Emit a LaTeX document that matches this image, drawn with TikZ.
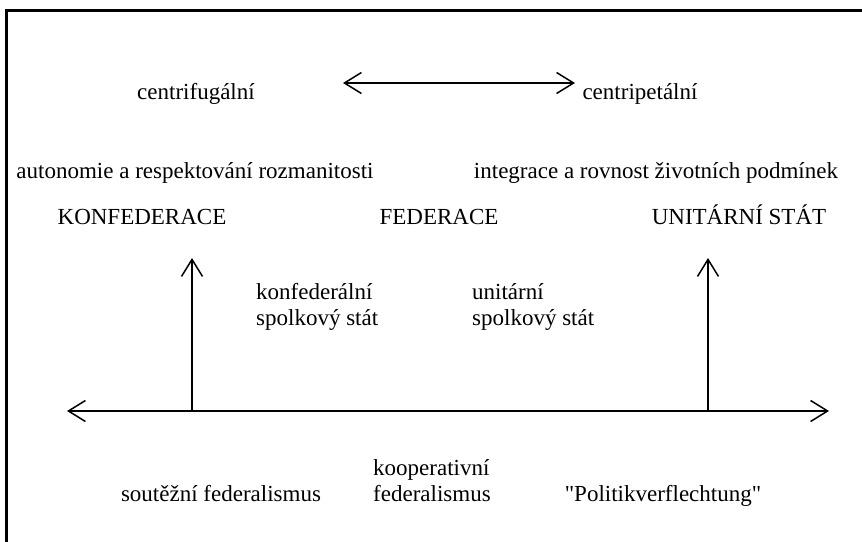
\documentclass[tikz,border=0pt]{standalone}
\usepackage{fontspec}
\setmainfont{Liberation Serif}
\newfontfamily\plainserif{Liberation Serif}
\usetikzlibrary{arrows.meta}
\begin{document}
\begin{tikzpicture}[x=1pt,y=-1pt,
  lbl/.style={inner sep=0pt,font=\fontsize{23}{26}\selectfont},
  lblw/.style={lbl,anchor=base west,align=left},
  lblc/.style={lbl,anchor=base},
  arr/.style={line width=1.5pt,{Straight Barb[length=17pt,width=21pt]}-{Straight Barb[length=17pt,width=21pt]}},
  uparr/.style={line width=1.5pt,-{Straight Barb[length=17pt,width=21pt]}},
  frame/.style={line width=2.6pt}
]
\useasboundingbox (0,0) rectangle (862,541);
\coordinate (fb) at (6.2,545);
\coordinate (fc) at (6.2,10.3);
\coordinate (fr) at (866,10.3);
\draw[frame] (fb) -- (fc) -- (fr);

\node[lblc] (cf) at (196,99) {centrifugální};
\node[lblc] (cp) at (640,99) {centripetální};
\coordinate (dl) at (343,83);
\coordinate (dr) at (575,83);
\draw[arr] (dl) -- (dr);

\node[lblc] (aut) at (195,178) {autonomie a respektování rozmanitosti};
\node[lblc] (int) at (656,178) {integrace a rovnost životních podmínek};

\node[lblc] (konf) at (142,224) {KONFEDERACE};
\node[lblc] (fed) at (439,224) {FEDERACE};
\node[lblc] (unit) at (739,224) {UNITÁRNÍ STÁT};

\node[lblw] (ks) at (256,325) {konfederální\\spolkový stát};
\node[lblw] (us) at (472,325) {unitární\\spolkový stát};

\coordinate (al) at (67,411);
\coordinate (ar) at (829,411);
\draw[arr] (al) -- (ar);
\coordinate (vl0) at (192,411);
\coordinate (vl1) at (192,258);
\coordinate (vr0) at (708,411);
\coordinate (vr1) at (708,258);
\draw[uparr] (vl0) -- (vl1);
\draw[uparr] (vr0) -- (vr1);

\node[lblc] (sf) at (221,501) {soutěžní federalismus};
\node[lblw] (kf) at (373,501) {kooperativní\\federalismus};
\node[lblc] (pv) at (663,501) {\plainserif"Politikverflechtung"};
\end{tikzpicture}
\end{document}
